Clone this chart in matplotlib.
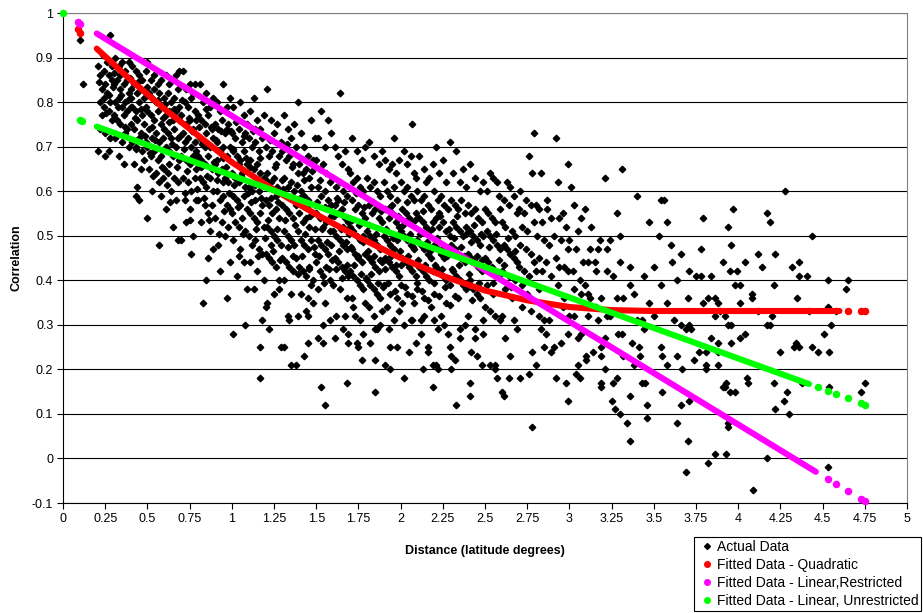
import matplotlib
matplotlib.use('Agg')
import matplotlib.pyplot as plt
from matplotlib.lines import Line2D

plt.rcParams['font.family'] = ['Liberation Sans', 'DejaVu Sans']

# Actual data (distance, correlation) in 0.1 wide bands
pts_a = [
    (0.10, 0.94), (0.12, 0.84),
    (0.21, 0.88), (0.22, 0.86), (0.24, 0.87), (0.26, 0.89), (0.28, 0.95), (0.23, 0.83), (0.25, 0.84), (0.27, 0.86),
    (0.29, 0.85), (0.22, 0.80), (0.24, 0.81), (0.26, 0.82), (0.28, 0.80), (0.23, 0.77), (0.27, 0.78), (0.29, 0.76),
    (0.22, 0.74), (0.25, 0.73), (0.28, 0.72), (0.21, 0.69), (0.25, 0.68), (0.27, 0.69), (0.24, 0.79), (0.29, 0.88),
    (0.215, 0.845), (0.235, 0.905), (0.255, 0.775), (0.275, 0.815), (0.295, 0.835),
    (0.31, 0.90), (0.33, 0.88), (0.35, 0.89), (0.37, 0.87), (0.39, 0.89), (0.30, 0.84), (0.32, 0.85), (0.34, 0.83),
    (0.36, 0.84), (0.38, 0.85), (0.31, 0.80), (0.33, 0.81), (0.35, 0.79), (0.37, 0.80), (0.39, 0.82), (0.30, 0.77),
    (0.32, 0.76), (0.34, 0.75), (0.36, 0.77), (0.38, 0.74), (0.31, 0.72), (0.35, 0.71), (0.37, 0.73), (0.39, 0.70),
    (0.33, 0.68), (0.36, 0.66), (0.38, 0.78), (0.34, 0.86), (0.305, 0.865), (0.325, 0.79), (0.345, 0.815),
    (0.365, 0.745), (0.385, 0.805), (0.395, 0.855),
    (0.41, 0.88), (0.43, 0.87), (0.45, 0.86), (0.47, 0.85), (0.49, 0.87), (0.40, 0.83), (0.42, 0.84), (0.44, 0.82),
    (0.46, 0.83), (0.48, 0.81), (0.41, 0.79), (0.43, 0.78), (0.45, 0.80), (0.47, 0.77), (0.49, 0.79), (0.40, 0.75),
    (0.42, 0.74), (0.44, 0.76), (0.46, 0.73), (0.48, 0.75), (0.41, 0.71), (0.43, 0.70), (0.45, 0.72), (0.47, 0.69),
    (0.49, 0.71), (0.42, 0.66), (0.46, 0.65), (0.44, 0.61), (0.43, 0.59), (0.45, 0.58), (0.48, 0.67), (0.40, 0.79),
    (0.405, 0.81), (0.425, 0.765), (0.445, 0.845), (0.465, 0.785), (0.485, 0.725), (0.495, 0.835), (0.435, 0.695),
    (0.50, 0.89), (0.52, 0.85), (0.54, 0.86), (0.56, 0.84), (0.58, 0.85), (0.51, 0.82), (0.53, 0.81), (0.55, 0.80),
    (0.57, 0.82), (0.59, 0.79), (0.50, 0.78), (0.52, 0.77), (0.54, 0.76), (0.56, 0.78), (0.58, 0.75), (0.51, 0.74),
    (0.53, 0.72), (0.55, 0.73), (0.57, 0.71), (0.59, 0.72), (0.50, 0.70), (0.52, 0.68), (0.54, 0.69), (0.56, 0.67),
    (0.58, 0.68), (0.51, 0.65), (0.55, 0.64), (0.57, 0.62), (0.59, 0.63), (0.53, 0.60), (0.50, 0.54), (0.57, 0.48),
    (0.58, 0.59), (0.54, 0.83), (0.505, 0.815), (0.525, 0.745), (0.545, 0.715), (0.565, 0.805), (0.585, 0.655),
    (0.595, 0.765), (0.515, 0.685), (0.535, 0.635),
    (0.61, 0.86), (0.63, 0.84), (0.65, 0.85), (0.67, 0.86), (0.69, 0.87), (0.60, 0.81), (0.62, 0.82), (0.64, 0.80),
    (0.66, 0.81), (0.68, 0.83), (0.61, 0.77), (0.63, 0.78), (0.65, 0.76), (0.67, 0.78), (0.69, 0.76), (0.60, 0.74),
    (0.62, 0.73), (0.64, 0.72), (0.66, 0.74), (0.68, 0.72), (0.61, 0.70), (0.63, 0.69), (0.65, 0.68), (0.67, 0.70),
    (0.69, 0.67), (0.60, 0.65), (0.62, 0.64), (0.66, 0.63), (0.68, 0.62), (0.64, 0.60), (0.67, 0.58), (0.61, 0.56),
    (0.65, 0.52), (0.68, 0.49), (0.63, 0.66), (0.69, 0.79), (0.605, 0.795), (0.625, 0.755), (0.645, 0.705),
    (0.655, 0.785), (0.675, 0.655), (0.695, 0.725), (0.615, 0.615), (0.635, 0.575),
    (0.71, 0.87), (0.73, 0.83), (0.75, 0.84), (0.77, 0.82), (0.72, 0.80), (0.74, 0.79), (0.76, 0.81), (0.78, 0.78),
    (0.70, 0.77), (0.73, 0.75), (0.75, 0.76), (0.77, 0.74), (0.79, 0.76), (0.71, 0.73), (0.72, 0.71), (0.74, 0.72),
    (0.76, 0.70), (0.78, 0.71), (0.70, 0.68), (0.73, 0.67), (0.75, 0.66), (0.77, 0.68), (0.79, 0.65), (0.71, 0.63),
    (0.74, 0.62), (0.76, 0.60), (0.78, 0.63), (0.72, 0.58), (0.75, 0.56), (0.79, 0.58), (0.73, 0.53), (0.77, 0.50),
    (0.70, 0.49), (0.76, 0.46), (0.78, 0.84), (0.79, 0.69), (0.705, 0.805), (0.715, 0.695), (0.735, 0.645),
    (0.745, 0.765), (0.765, 0.735), (0.785, 0.675), (0.795, 0.605), (0.725, 0.595), (0.755, 0.535),
    (0.81, 0.84), (0.83, 0.80), (0.85, 0.82), (0.87, 0.79), (0.89, 0.81), (0.80, 0.77), (0.82, 0.76), (0.84, 0.75),
    (0.86, 0.77), (0.88, 0.74), (0.81, 0.72), (0.83, 0.71), (0.85, 0.73), (0.87, 0.70), (0.89, 0.72), (0.80, 0.68),
    (0.82, 0.67), (0.84, 0.66), (0.86, 0.68), (0.88, 0.65), (0.81, 0.63), (0.83, 0.62), (0.85, 0.61), (0.87, 0.63),
    (0.89, 0.60), (0.80, 0.58), (0.84, 0.57), (0.86, 0.55), (0.88, 0.57), (0.82, 0.53), (0.87, 0.51), (0.83, 0.35),
    (0.85, 0.40), (0.89, 0.47), (0.84, 0.70), (0.86, 0.45), (0.805, 0.745), (0.815, 0.655), (0.825, 0.705),
    (0.845, 0.785), (0.855, 0.635), (0.875, 0.745), (0.895, 0.665), (0.835, 0.585), (0.865, 0.535),
    (0.91, 0.80), (0.93, 0.78), (0.95, 0.84), (0.97, 0.79), (0.99, 0.81), (0.90, 0.75), (0.92, 0.74), (0.94, 0.76),
    (0.96, 0.73), (0.98, 0.75), (0.91, 0.71), (0.93, 0.69), (0.95, 0.70), (0.97, 0.68), (0.99, 0.70), (0.90, 0.66),
    (0.92, 0.64), (0.94, 0.65), (0.96, 0.63), (0.98, 0.62), (0.91, 0.60), (0.93, 0.58), (0.95, 0.59), (0.97, 0.57),
    (0.99, 0.56), (0.90, 0.54), (0.94, 0.53), (0.96, 0.50), (0.98, 0.52), (0.92, 0.48), (0.97, 0.36), (0.99, 0.44),
    (0.93, 0.42), (0.95, 0.62), (0.91, 0.67), (0.97, 0.74), (0.905, 0.715), (0.915, 0.625), (0.935, 0.735),
    (0.945, 0.675), (0.955, 0.555), (0.965, 0.655), (0.985, 0.595), (0.995, 0.735), (0.925, 0.505),
]

pts_b = [
    (1.01, 0.79), (1.03, 0.76), (1.05, 0.80), (1.07, 0.77), (1.09, 0.75), (1.00, 0.73), (1.02, 0.72), (1.04, 0.74),
    (1.06, 0.71), (1.08, 0.73), (1.01, 0.69), (1.03, 0.68), (1.05, 0.67), (1.07, 0.69), (1.09, 0.66), (1.00, 0.64),
    (1.02, 0.63), (1.04, 0.62), (1.06, 0.64), (1.08, 0.61), (1.01, 0.59), (1.03, 0.58), (1.05, 0.57), (1.07, 0.59),
    (1.09, 0.56), (1.00, 0.55), (1.02, 0.53), (1.04, 0.52), (1.06, 0.54), (1.08, 0.51), (1.01, 0.49), (1.05, 0.47),
    (1.07, 0.44), (1.03, 0.41), (1.01, 0.28), (1.08, 0.30), (1.09, 0.38), (1.04, 0.66), (1.005, 0.695),
    (1.015, 0.615), (1.025, 0.755), (1.035, 0.565), (1.055, 0.635), (1.065, 0.505), (1.075, 0.725), (1.085, 0.675),
    (1.095, 0.595), (1.045, 0.455),
    (1.11, 0.78), (1.13, 0.81), (1.15, 0.76), (1.17, 0.74), (1.19, 0.77), (1.10, 0.72), (1.12, 0.70), (1.14, 0.71),
    (1.16, 0.69), (1.18, 0.72), (1.11, 0.67), (1.13, 0.65), (1.15, 0.66), (1.17, 0.64), (1.19, 0.63), (1.10, 0.61),
    (1.12, 0.60), (1.14, 0.58), (1.16, 0.60), (1.18, 0.57), (1.11, 0.55), (1.13, 0.54), (1.15, 0.53), (1.17, 0.55),
    (1.19, 0.52), (1.10, 0.50), (1.12, 0.48), (1.14, 0.49), (1.16, 0.47), (1.18, 0.46), (1.11, 0.44), (1.15, 0.42),
    (1.19, 0.40), (1.17, 0.25), (1.17, 0.18), (1.18, 0.31), (1.13, 0.38), (1.14, 0.74), (1.105, 0.655),
    (1.115, 0.575), (1.125, 0.735), (1.135, 0.615), (1.145, 0.515), (1.165, 0.675), (1.175, 0.585), (1.185, 0.625),
    (1.195, 0.495), (1.155, 0.455),
    (1.21, 0.83), (1.23, 0.76), (1.25, 0.73), (1.27, 0.75), (1.29, 0.71), (1.20, 0.70), (1.22, 0.68), (1.24, 0.69),
    (1.26, 0.66), (1.28, 0.68), (1.21, 0.64), (1.23, 0.62), (1.25, 0.63), (1.27, 0.61), (1.29, 0.60), (1.20, 0.58),
    (1.22, 0.57), (1.24, 0.55), (1.26, 0.56), (1.28, 0.54), (1.21, 0.52), (1.23, 0.51), (1.25, 0.50), (1.27, 0.49),
    (1.29, 0.48), (1.20, 0.46), (1.22, 0.45), (1.24, 0.44), (1.26, 0.43), (1.28, 0.40), (1.21, 0.35), (1.25, 0.37),
    (1.28, 0.38), (1.22, 0.29), (1.20, 0.34), (1.29, 0.25), (1.26, 0.59), (1.23, 0.48), (1.205, 0.625),
    (1.215, 0.535), (1.225, 0.715), (1.235, 0.585), (1.245, 0.465), (1.255, 0.655), (1.265, 0.515), (1.275, 0.575),
    (1.285, 0.445), (1.295, 0.625),
    (1.31, 0.77), (1.33, 0.74), (1.35, 0.72), (1.37, 0.75), (1.39, 0.80), (1.30, 0.69), (1.32, 0.67), (1.34, 0.68),
    (1.36, 0.66), (1.38, 0.70), (1.31, 0.63), (1.33, 0.61), (1.35, 0.62), (1.37, 0.60), (1.39, 0.64), (1.30, 0.57),
    (1.32, 0.56), (1.34, 0.55), (1.36, 0.54), (1.38, 0.57), (1.31, 0.51), (1.33, 0.50), (1.35, 0.49), (1.37, 0.48),
    (1.39, 0.51), (1.30, 0.45), (1.32, 0.44), (1.34, 0.43), (1.36, 0.42), (1.38, 0.45), (1.31, 0.40), (1.35, 0.37),
    (1.33, 0.32), (1.34, 0.31), (1.31, 0.25), (1.35, 0.21), (1.38, 0.21), (1.39, 0.32), (1.305, 0.605),
    (1.315, 0.535), (1.325, 0.705), (1.335, 0.475), (1.345, 0.585), (1.355, 0.655), (1.365, 0.455), (1.375, 0.525),
    (1.385, 0.615), (1.395, 0.415),
    (1.41, 0.73), (1.43, 0.70), (1.45, 0.68), (1.47, 0.76), (1.49, 0.72), (1.40, 0.66), (1.42, 0.64), (1.44, 0.65),
    (1.46, 0.63), (1.48, 0.67), (1.41, 0.60), (1.43, 0.59), (1.45, 0.58), (1.47, 0.61), (1.49, 0.57), (1.40, 0.55),
    (1.42, 0.53), (1.44, 0.54), (1.46, 0.52), (1.48, 0.55), (1.41, 0.49), (1.43, 0.48), (1.45, 0.47), (1.47, 0.49),
    (1.49, 0.46), (1.40, 0.43), (1.42, 0.42), (1.44, 0.41), (1.46, 0.43), (1.48, 0.40), (1.41, 0.37), (1.45, 0.36),
    (1.44, 0.33), (1.45, 0.32), (1.43, 0.23), (1.45, 0.26), (1.48, 0.35), (1.47, 0.39), (1.405, 0.585),
    (1.415, 0.455), (1.425, 0.625), (1.435, 0.505), (1.445, 0.565), (1.455, 0.425), (1.465, 0.545), (1.475, 0.645),
    (1.485, 0.475), (1.495, 0.515),
    (1.53, 0.78), (1.57, 0.76), (1.51, 0.72), (1.55, 0.70), (1.59, 0.73), (1.50, 0.67), (1.52, 0.65), (1.54, 0.66),
    (1.56, 0.64), (1.58, 0.62), (1.51, 0.61), (1.53, 0.59), (1.55, 0.60), (1.57, 0.58), (1.59, 0.57), (1.50, 0.55),
    (1.52, 0.54), (1.54, 0.52), (1.56, 0.53), (1.58, 0.51), (1.51, 0.49), (1.53, 0.48), (1.55, 0.47), (1.57, 0.46),
    (1.59, 0.48), (1.50, 0.44), (1.52, 0.42), (1.54, 0.41), (1.56, 0.43), (1.58, 0.40), (1.51, 0.38), (1.55, 0.35),
    (1.54, 0.30), (1.58, 0.31), (1.51, 0.27), (1.54, 0.26), (1.53, 0.16), (1.55, 0.12), (1.505, 0.575),
    (1.515, 0.455), (1.525, 0.625), (1.535, 0.515), (1.545, 0.395), (1.555, 0.565), (1.565, 0.485), (1.575, 0.425),
    (1.585, 0.545), (1.595, 0.445),
    (1.64, 0.82), (1.61, 0.70), (1.63, 0.68), (1.65, 0.66), (1.67, 0.69), (1.69, 0.65), (1.60, 0.63), (1.62, 0.61),
    (1.64, 0.62), (1.66, 0.60), (1.68, 0.59), (1.61, 0.57), (1.63, 0.55), (1.65, 0.56), (1.67, 0.54), (1.69, 0.53),
    (1.60, 0.51), (1.62, 0.50), (1.64, 0.49), (1.66, 0.48), (1.68, 0.47), (1.61, 0.45), (1.63, 0.44), (1.65, 0.43),
    (1.67, 0.42), (1.69, 0.41), (1.60, 0.39), (1.64, 0.38), (1.68, 0.36), (1.62, 0.32), (1.66, 0.29), (1.67, 0.32),
    (1.61, 0.27), (1.69, 0.28), (1.69, 0.26), (1.68, 0.17), (1.63, 0.58), (1.66, 0.52), (1.605, 0.545),
    (1.615, 0.425), (1.625, 0.585), (1.635, 0.465), (1.645, 0.515), (1.655, 0.405), (1.665, 0.575), (1.675, 0.485),
    (1.685, 0.435), (1.695, 0.505),
    (1.71, 0.72), (1.74, 0.69), (1.77, 0.67), (1.79, 0.70), (1.70, 0.64), (1.72, 0.62), (1.74, 0.63), (1.76, 0.61),
    (1.78, 0.60), (1.71, 0.58), (1.73, 0.56), (1.75, 0.57), (1.77, 0.55), (1.79, 0.54), (1.70, 0.52), (1.72, 0.51),
    (1.74, 0.50), (1.76, 0.49), (1.78, 0.50), (1.71, 0.47), (1.73, 0.46), (1.75, 0.45), (1.77, 0.44), (1.79, 0.46),
    (1.70, 0.42), (1.72, 0.41), (1.74, 0.40), (1.76, 0.39), (1.78, 0.38), (1.71, 0.36), (1.73, 0.32), (1.76, 0.31),
    (1.74, 0.26), (1.75, 0.25), (1.77, 0.22), (1.78, 0.28), (1.72, 0.34), (1.79, 0.35), (1.705, 0.475),
    (1.715, 0.535), (1.725, 0.435), (1.735, 0.595), (1.745, 0.455), (1.755, 0.525), (1.765, 0.415), (1.775, 0.485),
    (1.785, 0.565), (1.795, 0.405),
    (1.81, 0.71), (1.84, 0.68), (1.87, 0.66), (1.89, 0.69), (1.80, 0.63), (1.82, 0.61), (1.84, 0.62), (1.86, 0.60),
    (1.88, 0.59), (1.81, 0.57), (1.83, 0.55), (1.85, 0.56), (1.87, 0.54), (1.89, 0.53), (1.80, 0.51), (1.82, 0.50),
    (1.84, 0.49), (1.86, 0.48), (1.88, 0.47), (1.81, 0.45), (1.83, 0.44), (1.85, 0.43), (1.87, 0.42), (1.89, 0.44),
    (1.80, 0.40), (1.82, 0.39), (1.84, 0.38), (1.86, 0.37), (1.88, 0.36), (1.81, 0.34), (1.84, 0.32), (1.85, 0.29),
    (1.86, 0.29), (1.88, 0.30), (1.85, 0.22), (1.85, 0.15), (1.82, 0.26), (1.89, 0.33), (1.805, 0.465),
    (1.815, 0.525), (1.825, 0.415), (1.835, 0.575), (1.845, 0.455), (1.855, 0.505), (1.865, 0.395), (1.875, 0.445),
    (1.885, 0.555), (1.895, 0.385),
    (1.96, 0.72), (1.91, 0.67), (1.93, 0.65), (1.95, 0.66), (1.97, 0.64), (1.99, 0.67), (1.90, 0.62), (1.92, 0.60),
    (1.94, 0.59), (1.96, 0.61), (1.98, 0.58), (1.91, 0.56), (1.93, 0.54), (1.95, 0.55), (1.97, 0.53), (1.99, 0.52),
    (1.90, 0.50), (1.92, 0.49), (1.94, 0.48), (1.96, 0.47), (1.98, 0.49), (1.91, 0.45), (1.93, 0.44), (1.95, 0.43),
    (1.97, 0.42), (1.99, 0.41), (1.90, 0.39), (1.94, 0.37), (1.98, 0.36), (1.92, 0.34), (1.93, 0.29), (1.96, 0.31),
    (1.94, 0.25), (1.98, 0.25), (1.91, 0.21), (1.94, 0.20), (1.99, 0.33), (1.95, 0.57), (1.905, 0.425),
    (1.915, 0.515), (1.925, 0.395), (1.935, 0.565), (1.945, 0.455), (1.955, 0.495), (1.965, 0.375), (1.975, 0.435),
    (1.985, 0.545), (1.995, 0.465),
]

pts_c = [
    (2.07, 0.75), (2.02, 0.69), (2.04, 0.66), (2.06, 0.68), (2.08, 0.64), (2.00, 0.62), (2.02, 0.60), (2.04, 0.61),
    (2.06, 0.59), (2.08, 0.58), (2.01, 0.56), (2.03, 0.55), (2.05, 0.54), (2.07, 0.53), (2.09, 0.55), (2.00, 0.51),
    (2.02, 0.50), (2.04, 0.49), (2.06, 0.48), (2.08, 0.47), (2.01, 0.45), (2.03, 0.44), (2.05, 0.43), (2.07, 0.42),
    (2.09, 0.41), (2.00, 0.39), (2.04, 0.37), (2.08, 0.35), (2.02, 0.30), (2.06, 0.31), (2.07, 0.31), (2.05, 0.24),
    (2.09, 0.26), (2.02, 0.18), (2.01, 0.35), (2.09, 0.63), (2.005, 0.435), (2.015, 0.525), (2.025, 0.385),
    (2.035, 0.575), (2.045, 0.455), (2.055, 0.505), (2.065, 0.365), (2.075, 0.475), (2.085, 0.535), (2.095, 0.395),
    (2.11, 0.68), (2.14, 0.65), (2.17, 0.63), (2.19, 0.66), (2.10, 0.60), (2.12, 0.58), (2.14, 0.59), (2.16, 0.57),
    (2.18, 0.56), (2.11, 0.54), (2.13, 0.53), (2.15, 0.52), (2.17, 0.51), (2.19, 0.53), (2.10, 0.49), (2.12, 0.48),
    (2.14, 0.47), (2.16, 0.46), (2.18, 0.45), (2.11, 0.43), (2.13, 0.42), (2.15, 0.41), (2.17, 0.40), (2.19, 0.42),
    (2.10, 0.38), (2.14, 0.36), (2.12, 0.31), (2.14, 0.32), (2.12, 0.28), (2.16, 0.25), (2.16, 0.24), (2.13, 0.20),
    (2.19, 0.21), (2.19, 0.16), (2.18, 0.34), (2.15, 0.62), (2.105, 0.445), (2.115, 0.505), (2.125, 0.375),
    (2.135, 0.555), (2.145, 0.435), (2.155, 0.485), (2.165, 0.355), (2.175, 0.465), (2.185, 0.515), (2.195, 0.395),
    (2.21, 0.70), (2.25, 0.67), (2.29, 0.71), (2.23, 0.64), (2.27, 0.62), (2.20, 0.60), (2.22, 0.58), (2.24, 0.59),
    (2.26, 0.57), (2.28, 0.56), (2.21, 0.54), (2.23, 0.52), (2.25, 0.53), (2.27, 0.51), (2.29, 0.50), (2.20, 0.48),
    (2.22, 0.47), (2.24, 0.46), (2.26, 0.45), (2.28, 0.47), (2.21, 0.43), (2.23, 0.42), (2.25, 0.41), (2.27, 0.40),
    (2.29, 0.39), (2.20, 0.37), (2.24, 0.32), (2.22, 0.29), (2.20, 0.31), (2.28, 0.28), (2.29, 0.25), (2.21, 0.21),
    (2.22, 0.20), (2.27, 0.35), (2.26, 0.30), (2.23, 0.55), (2.205, 0.435), (2.215, 0.495), (2.225, 0.365),
    (2.235, 0.545), (2.245, 0.425), (2.255, 0.475), (2.265, 0.385), (2.275, 0.455), (2.285, 0.515), (2.295, 0.345),
    (2.33, 0.69), (2.31, 0.64), (2.35, 0.62), (2.37, 0.65), (2.39, 0.61), (2.30, 0.58), (2.32, 0.57), (2.34, 0.56),
    (2.36, 0.58), (2.38, 0.55), (2.31, 0.53), (2.33, 0.52), (2.35, 0.51), (2.37, 0.50), (2.39, 0.52), (2.30, 0.48),
    (2.32, 0.47), (2.34, 0.46), (2.36, 0.45), (2.38, 0.44), (2.31, 0.42), (2.33, 0.41), (2.35, 0.40), (2.37, 0.39),
    (2.39, 0.38), (2.35, 0.29), (2.32, 0.22), (2.30, 0.23), (2.30, 0.20), (2.33, 0.12), (2.38, 0.30), (2.40, 0.32),
    (2.35, 0.27), (2.34, 0.36), (2.305, 0.425), (2.315, 0.495), (2.325, 0.365), (2.335, 0.545), (2.345, 0.435),
    (2.355, 0.475), (2.365, 0.395), (2.375, 0.455), (2.385, 0.505),
    (2.41, 0.66), (2.44, 0.63), (2.47, 0.60), (2.49, 0.62), (2.40, 0.57), (2.42, 0.55), (2.44, 0.56), (2.46, 0.54),
    (2.48, 0.53), (2.41, 0.51), (2.43, 0.50), (2.45, 0.49), (2.47, 0.48), (2.49, 0.50), (2.40, 0.46), (2.42, 0.45),
    (2.44, 0.44), (2.46, 0.43), (2.48, 0.42), (2.41, 0.40), (2.43, 0.38), (2.45, 0.37), (2.47, 0.36), (2.44, 0.29),
    (2.49, 0.31), (2.42, 0.24), (2.44, 0.27), (2.45, 0.23), (2.48, 0.21), (2.41, 0.17), (2.41, 0.14), (2.49, 0.28),
    (2.405, 0.415), (2.415, 0.485), (2.425, 0.355), (2.435, 0.525), (2.455, 0.455), (2.465, 0.395), (2.475, 0.505),
    (2.485, 0.445),
    (2.53, 0.64), (2.55, 0.63), (2.57, 0.62), (2.51, 0.60), (2.58, 0.59), (2.50, 0.56), (2.52, 0.55), (2.54, 0.54),
    (2.56, 0.53), (2.59, 0.56), (2.51, 0.51), (2.53, 0.50), (2.55, 0.49), (2.57, 0.48), (2.59, 0.47), (2.50, 0.45),
    (2.52, 0.44), (2.54, 0.43), (2.56, 0.42), (2.58, 0.41), (2.51, 0.39), (2.55, 0.37), (2.53, 0.33), (2.56, 0.32),
    (2.53, 0.21), (2.56, 0.21), (2.56, 0.20), (2.57, 0.18), (2.59, 0.31), (2.50, 0.34), (2.505, 0.425),
    (2.525, 0.475), (2.545, 0.395), (2.565, 0.505), (2.585, 0.445),
    (2.63, 0.62), (2.65, 0.61), (2.61, 0.58), (2.64, 0.57), (2.67, 0.59), (2.69, 0.55), (2.60, 0.53), (2.62, 0.52),
    (2.66, 0.51), (2.68, 0.50), (2.61, 0.48), (2.63, 0.47), (2.65, 0.46), (2.67, 0.45), (2.69, 0.44), (2.60, 0.42),
    (2.64, 0.41), (2.68, 0.40), (2.62, 0.38), (2.66, 0.36), (2.60, 0.32), (2.67, 0.31), (2.62, 0.27), (2.65, 0.23),
    (2.60, 0.15), (2.61, 0.14), (2.64, 0.18), (2.69, 0.29), (2.615, 0.435), (2.635, 0.495), (2.655, 0.385),
    (2.675, 0.465),
    (2.79, 0.73), (2.76, 0.68), (2.78, 0.64), (2.71, 0.60), (2.74, 0.58), (2.70, 0.56), (2.73, 0.55), (2.77, 0.57),
    (2.72, 0.52), (2.75, 0.51), (2.79, 0.53), (2.71, 0.48), (2.74, 0.47), (2.77, 0.46), (2.70, 0.43), (2.73, 0.42),
    (2.76, 0.41), (2.79, 0.44), (2.72, 0.39), (2.72, 0.34), (2.75, 0.37), (2.77, 0.33), (2.78, 0.24), (2.76, 0.19),
    (2.71, 0.18), (2.78, 0.07),
    (2.83, 0.64), (2.80, 0.57), (2.82, 0.56), (2.87, 0.58), (2.87, 0.56), (2.84, 0.53), (2.89, 0.54), (2.81, 0.50),
    (2.85, 0.49), (2.88, 0.48), (2.82, 0.45), (2.86, 0.44), (2.80, 0.42), (2.84, 0.42), (2.89, 0.41), (2.82, 0.32),
    (2.85, 0.31), (2.88, 0.31), (2.83, 0.29), (2.86, 0.28), (2.85, 0.25), (2.89, 0.24), (2.80, 0.21), (2.82, 0.38),
    (2.92, 0.72), (2.99, 0.66), (2.93, 0.62), (2.96, 0.55), (2.94, 0.54), (2.98, 0.52), (2.91, 0.50), (2.95, 0.49),
    (2.99, 0.47), (2.92, 0.45), (2.97, 0.43), (2.94, 0.43), (2.99, 0.42), (2.93, 0.39), (2.97, 0.36), (2.92, 0.18),
    (2.98, 0.17), (2.99, 0.13), (2.95, 0.26), (2.99, 0.28), (2.91, 0.25), (2.96, 0.34),
]

pts_d = [
    (3.01, 0.61), (3.03, 0.57), (3.07, 0.54), (3.05, 0.51), (3.09, 0.56), (3.00, 0.49), (3.04, 0.47), (3.08, 0.44),
    (3.02, 0.42), (3.06, 0.40), (3.09, 0.39), (3.07, 0.37), (3.03, 0.38), (3.00, 0.32), (3.03, 0.32), (3.05, 0.27),
    (3.07, 0.28), (3.04, 0.19), (3.06, 0.18), (3.05, 0.21), (3.10, 0.22), (3.10, 0.23),
    (3.13, 0.52), (3.12, 0.47), (3.17, 0.47), (3.11, 0.44), (3.15, 0.44), (3.16, 0.42), (3.19, 0.36), (3.11, 0.37),
    (3.16, 0.34), (3.11, 0.32), (3.14, 0.24), (3.19, 0.25), (3.19, 0.23), (3.17, 0.31), (3.19, 0.17), (3.19, 0.16),
    (3.12, 0.36), (3.18, 0.49),
    (3.21, 0.63), (3.28, 0.55), (3.22, 0.47), (3.24, 0.49), (3.22, 0.42), (3.26, 0.41), (3.28, 0.36), (3.22, 0.32),
    (3.24, 0.32), (3.21, 0.27), (3.21, 0.20), (3.26, 0.17), (3.28, 0.18), (3.25, 0.13), (3.27, 0.11), (3.29, 0.28),
    (3.31, 0.65), (3.30, 0.50), (3.30, 0.44), (3.36, 0.43), (3.36, 0.39), (3.32, 0.36), (3.38, 0.37), (3.31, 0.28),
    (3.32, 0.23), (3.37, 0.26), (3.38, 0.21), (3.36, 0.14), (3.30, 0.10), (3.34, 0.08), (3.36, 0.04),
    (3.40, 0.59), (3.44, 0.41), (3.47, 0.53), (3.40, 0.31), (3.43, 0.31), (3.42, 0.23), (3.41, 0.25), (3.44, 0.29),
    (3.47, 0.35), (3.43, 0.17), (3.45, 0.17), (3.46, 0.12), (3.46, 0.09),
    (3.54, 0.58), (3.56, 0.58), (3.53, 0.50), (3.58, 0.53), (3.50, 0.43), (3.54, 0.39), (3.58, 0.35), (3.50, 0.32),
    (3.54, 0.25), (3.58, 0.21), (3.55, 0.23), (3.55, 0.15),
    (3.60, 0.48), (3.61, 0.44), (3.66, 0.46), (3.64, 0.40), (3.62, 0.31), (3.66, 0.30), (3.69, 0.29), (3.64, 0.23),
    (3.67, 0.20), (3.66, 0.12), (3.64, 0.08), (3.69, -0.03),
    (3.71, 0.42), (3.75, 0.41), (3.70, 0.36), (3.72, 0.29), (3.71, 0.30), (3.74, 0.22), (3.71, 0.13), (3.70, 0.04),
    (3.78, 0.47), (3.79, 0.54), (3.79, 0.35), (3.78, 0.41), (3.77, 0.24),
    (3.84, 0.41), (3.82, 0.36), (3.86, 0.36), (3.88, 0.35), (3.86, 0.32), (3.89, 0.33), (3.84, 0.27), (3.88, 0.26),
    (3.88, 0.24), (3.81, 0.24), (3.81, 0.21), (3.81, 0.20), (3.88, 0.21), (3.86, 0.01), (3.82, -0.01),
    (3.91, 0.44), (3.95, 0.42), (3.94, 0.52), (3.96, 0.48), (3.97, 0.56), (3.99, 0.42), (3.98, 0.39), (3.92, 0.32),
    (3.94, 0.30), (3.96, 0.30), (3.96, 0.26), (3.93, 0.17), (3.92, 0.16), (3.91, 0.16), (3.95, 0.15), (3.98, 0.15),
    (3.94, 0.08), (3.94, 0.07), (3.93, 0.01),
    (4.04, 0.44), (4.01, 0.39), (4.01, 0.35), (4.01, 0.27), (4.04, 0.28), (4.05, 0.18), (4.06, 0.17), (4.09, -0.07),
    (4.12, 0.46), (4.14, 0.43), (4.17, 0.55), (4.19, 0.53), (4.12, 0.33), (4.17, 0.30), (4.19, 0.30), (4.20, 0.32),
    (4.21, 0.39), (4.21, 0.17), (4.22, 0.11), (4.17, 0.00), (4.08, 0.37), (4.08, 0.36),
    (4.28, 0.60), (4.22, 0.46), (4.25, 0.24), (4.27, 0.13), (4.29, 0.15), (4.30, 0.10),
    (4.32, 0.43), (4.36, 0.44), (4.36, 0.41), (4.35, 0.36), (4.34, 0.26), (4.33, 0.25), (4.36, 0.25), (4.38, 0.17),
    (4.41, 0.41), (4.44, 0.50), (4.42, 0.33), (4.44, 0.25), (4.47, 0.24),
    (4.53, 0.40), (4.53, 0.34), (4.55, 0.30), (4.51, 0.28), (4.54, 0.24), (4.54, 0.16), (4.53, -0.02), (4.58, 0.33),
    (4.65, 0.40), (4.64, 0.38), (4.73, 0.15), (4.75, 0.17),
]

# Fitted series: dense stretch as knots, plus the isolated dots at the ends
quad_x = [0.2, 0.4, 0.6, 0.8, 1.0, 1.25, 1.5, 1.75, 2.0, 2.25, 2.5, 2.75, 3.0, 3.25, 3.5, 4.0, 4.6]
quad_y = [0.92, 0.85, 0.785, 0.725, 0.665, 0.603, 0.548, 0.497, 0.45, 0.41, 0.377, 0.355, 0.34, 0.333, 0.331, 0.331, 0.331]
quad_dot_x = [0.09, 0.10, 4.65, 4.73, 4.75]
quad_dot_y = [0.965, 0.955, 0.331, 0.331, 0.331]

restr_x = [0.2, 4.46]
restr_y = [0.954, -0.03]
restr_dot_x = [0.09, 0.10, 4.53, 4.58, 4.65, 4.73, 4.75]
restr_dot_y = [0.98, 0.975, -0.047, -0.058, -0.073, -0.09, -0.095]

unres_x = [0.2, 4.42]
unres_y = [0.745, 0.167]
unres_dot_x = [0.0, 0.10, 0.11, 4.47, 4.53, 4.58, 4.65, 4.73, 4.75]
unres_dot_y = [1.0, 0.76, 0.758, 0.16, 0.152, 0.145, 0.135, 0.125, 0.12]

x_ticks = [0, 0.25, 0.5, 0.75, 1, 1.25, 1.5, 1.75, 2, 2.25, 2.5, 2.75, 3, 3.25, 3.5, 3.75, 4, 4.25, 4.5, 4.75, 5]
y_ticks = [-0.1, 0, 0.1, 0.2, 0.3, 0.4, 0.5, 0.6, 0.7, 0.8, 0.9, 1]

RED = '#ff0000'
MAGENTA = '#ff00ff'
GREEN = '#00ff00'

fig = plt.figure(figsize=(9.23, 6.13), dpi=100)
ax = fig.add_axes([63 / 923, 1 - 503 / 613, 844 / 923, 490 / 613])

actual = pts_a + pts_b + pts_c + pts_d
ax.plot([p[0] for p in actual], [p[1] for p in actual], linestyle='none',
        marker='D', markersize=3.3, color='black', zorder=3)

for lx, ly, dx, dy, col in [(quad_x, quad_y, quad_dot_x, quad_dot_y, RED),
                            (restr_x, restr_y, restr_dot_x, restr_dot_y, MAGENTA),
                            (unres_x, unres_y, unres_dot_x, unres_dot_y, GREEN)]:
    ax.plot(lx, ly, color=col, lw=4.4, solid_capstyle='round', zorder=4)
    ax.plot(dx, dy, linestyle='none', marker='o', markersize=4.4, color=col,
            zorder=4, clip_on=False)

ax.set_xlim(0, 5)
ax.set_ylim(-0.1, 1)
ax.set_xticks(x_ticks)
ax.set_xticklabels(['%g' % t for t in x_ticks])
ax.set_yticks(y_ticks)
ax.set_yticklabels(['%g' % t for t in y_ticks])
ax.tick_params(direction='out', length=4, width=0.8, labelsize=9, pad=3, color='black')
ax.yaxis.grid(True, color='black', lw=0.8)
ax.set_axisbelow(True)
for side in ['top', 'right']:
    ax.spines[side].set_color('#808080')
for side in ['left', 'bottom']:
    ax.spines[side].set_color('black')

fig.text(485 / 923, 1 - 551 / 613, 'Distance (latitude degrees)', ha='center', va='center',
         fontsize=9, fontweight='bold')
fig.text(17 / 923, 1 - 258 / 613, 'Correlation', ha='center', va='center', rotation=90,
         fontsize=9, fontweight='bold')

handles = [
    Line2D([], [], linestyle='none', marker='D', markersize=3, color='black'),
    Line2D([], [], linestyle='none', marker='o', markersize=4, color=RED),
    Line2D([], [], linestyle='none', marker='o', markersize=4, color=MAGENTA),
    Line2D([], [], linestyle='none', marker='o', markersize=4, color=GREEN),
]
labels = ['Actual Data', 'Fitted Data - Quadratic', 'Fitted Data - Linear,Restricted',
          'Fitted Data - Linear, Unrestricted']
# legend box runs off the right edge in the original, so anchor its top-left corner
leg = fig.legend(handles, labels, loc='upper left', bbox_to_anchor=(694 / 923, 1 - 537 / 613),
                 fontsize=10, frameon=True, fancybox=False, edgecolor='black', framealpha=1,
                 handlelength=1.5, handletextpad=-0.05, labelspacing=0.3, borderpad=0.2,
                 borderaxespad=0)
leg.get_frame().set_linewidth(0.8)

fig.savefig('out.png', dpi=100)
